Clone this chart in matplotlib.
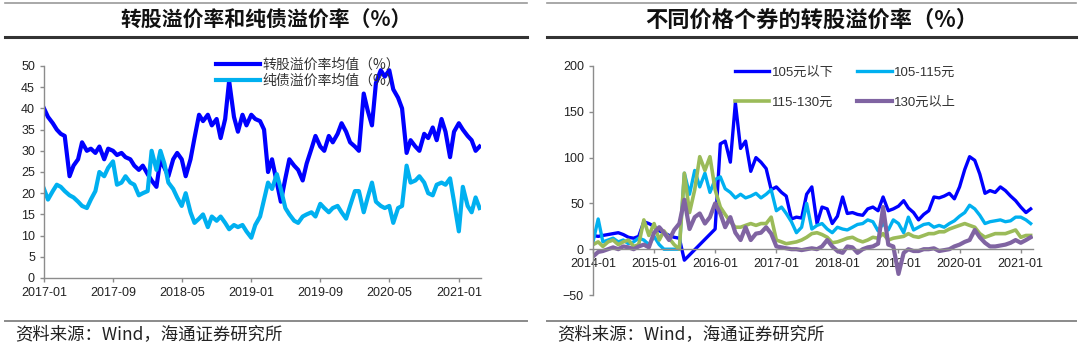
import numpy as np
import pandas as pd
import matplotlib
matplotlib.use("Agg")
import matplotlib.pyplot as plt
import matplotlib.dates as mdates
from matplotlib.lines import Line2D

plt.rcParams['font.family'] = ['Liberation Sans', 'Noto Sans CJK SC', 'DejaVu Sans']
CJK = ['Noto Sans CJK SC', 'DejaVu Sans']

# 左图：转股溢价率与纯债溢价率均值，半月度，2017-01 ~ 2021-03
dates_left = pd.date_range('2017-01-01', periods=102, freq='SMS')
conv_premium = [
    40, 38, 36.5, 35, 34, 33.5, 24, 26.5, 28, 32, 30, 30.5,
    29.5, 31, 28, 30.5, 30, 29, 29.5, 28.5, 28, 26.5, 25.5, 26.5,
    24.5, 23, 21.5, 28, 26, 24, 28, 29.5, 28, 24, 28, 33,
    38.5, 37, 38.5, 36, 37.5, 33, 37.5, 46.5, 38, 34.5, 38.5, 36,
    38.5, 37.5, 37, 35, 25, 28, 22.5, 18, 23.5, 28, 26.5, 25.5,
    23, 27, 30.5, 33.5, 31, 30, 33.5, 32, 34, 36.5, 34.5, 32,
    31, 30, 43.5, 39.5, 36, 46, 49, 47.5, 49, 44.5, 42.5, 40,
    29.5, 32.5, 31, 30, 34, 33, 35.5, 32.5, 37.5, 34.5, 28.5, 34.5,
    36.5, 35, 33.5, 32.5, 30, 31,
]
bond_premium = [
    21, 18.5, 20.5, 22, 21.5, 20.5, 19.5, 19, 18, 17, 16.5, 18.5,
    20.5, 25, 24, 26, 27.5, 22, 22.5, 24, 22.5, 22, 19.5, 20,
    20.5, 30, 25.5, 30, 27, 22.5, 21, 19, 17, 20, 15.5, 13,
    14, 15, 12, 14.5, 13.5, 14.5, 13, 11.5, 12.5, 12, 12.5, 11,
    9.5, 12.5, 14.5, 18.5, 22.5, 21, 24.5, 21, 16.5, 15, 13.5, 13,
    14.5, 15, 15.5, 14.5, 17.5, 16.5, 15.5, 16.5, 17, 15.5, 14, 17,
    20.5, 20.5, 15.5, 19, 22.5, 18, 17, 16.5, 17, 13, 16.5, 17,
    26.5, 22.5, 23, 24, 22.5, 20, 19.5, 22, 22.5, 22, 23.5, 18,
    11, 21.5, 17, 15.5, 19, 16.5,
]
left_labels = ['转股溢价率均值（%）', '纯债溢价率均值（%）']

# 右图：不同价格个券的转股溢价率，月度，2014-01 ~ 2021-03（缺失月份为 nan）
dates_right = pd.date_range('2014-01-01', periods=87, freq='MS')
nan = np.nan
below_105 = [
    15, 14, 15, 16, 17, 18, 16, 13, 12, 14, 30, 28,
    25, 20, 18, 15, 13, 12, -12, nan, nan, nan, nan, nan,
    22, 115, 118, 95, 160, 110, 118, 85, 100, 95, 88, 65,
    68, 62, 58, 33, 35, 34, 60, 68, 28, 46, 44, 28,
    36, 57, 39, 40, 38, 37, 44, 46, 42, 57, 42, 44,
    47, 53, 45, 40, 32, 38, 42, 57, 56, 58, 61, 55,
    68, 87, 101, 97, 82, 61, 64, 62, 68, 64, 58, 53,
    46, 40, 44,
]
p105_115 = [
    8, 33, 8, 10, 12, 8, 10, 6, 8, 12, 10, 5,
    14, 5, 0, 0, 0, 0, 83, 60, 86, 68, 83, 62,
    76, 79, 66, 62, 56, 60, 56, 58, 61, 56, 60, 65,
    42, 46, 39, 30, 18, 24, 50, 22, 26, 28, 22, 18,
    24, 22, 21, 24, 27, 28, 32, 30, 20, 28, 21, 32,
    28, 18, 35, 21, 24, 27, 28, 24, 26, 24, 28, 31,
    36, 40, 48, 44, 37, 28, 30, 31, 32, 30, 31, 35,
    35, 32, 28,
]
p115_130 = [
    5, 8, 3, 8, 10, 5, 8, 10, 3, 5, 32, 15,
    28, 10, 20, 12, 5, 0, 83, 40, 65, 101, 86, 101,
    65, 46, 38, 30, 24, 24, 26, 28, 26, 28, 28, 35,
    10, 8, 6, 7, 8, 10, 13, 17, 18, 16, 13, 7,
    8, 10, 12, 13, 10, 8, 10, 13, 12, 17, 10, 12,
    13, 14, 17, 14, 13, 15, 17, 17, 19, 19, 22, 24,
    26, 28, 26, 24, 17, 13, 15, 17, 17, 17, 19, 21,
    13, 15, 15,
]
above_130 = [
    -8, -3, -2, 0, 2, 0, 3, 2, 0, 3, 5, 2,
    18, 24, 18, 10, 21, 28, 54, 22, 35, 39, 28, 35,
    50, 39, 24, 35, 18, 10, 24, 10, 17, 18, 24, 17,
    3, 2, 1, 0, 0, -1, 0, 1, 0, 3, 10, 3,
    -2, -4, 3, 2, -4, 0, 2, 3, 6, 46, 5, 3,
    -27, -4, 0, -2, -2, 0, 0, 1, -2, -1, 0, 3,
    5, 8, 10, 21, 13, 7, 3, 3, 4, 5, 7, 10,
    7, 10, 13,
]
right_series = [below_105, p105_115, p115_130, above_130]
right_labels = ['105元以下', '105-115元', '115-130元', '130元以上']
right_colors = ['#0000FF', '#00B0F0', '#9BBB59', '#8064A2']
right_widths = [2.4, 2.4, 2.6, 3.0]

W, H = 1080, 350
fig = plt.figure(figsize=(W / 100, H / 100), dpi=100)


def px_axes(x0, y0, x1, y1):
    # 以像素坐标（左上为原点）创建坐标轴
    return fig.add_axes([x0 / W, 1 - y1 / H, (x1 - x0) / W, (y1 - y0) / H])


def hline(x0, x1, y, color, lw):
    fig.add_artist(Line2D([x0 / W, x1 / W], [1 - y / H, 1 - y / H],
                          color=color, lw=lw, transform=fig.transFigure))


def style_axes(ax):
    for s in ['top', 'right']:
        ax.spines[s].set_visible(False)
    for s in ['left', 'bottom']:
        ax.spines[s].set_color('#8c8c8c')
        ax.spines[s].set_linewidth(1)
    ax.tick_params(axis='both', colors='#8c8c8c', labelcolor='#222222',
                   labelsize=9, length=3, width=1, direction='out')


# 页眉、页脚
for x0, x1, title, tsize in [(5, 527, '转股溢价率和纯债溢价率（%）', 15),
                             (547, 1076, '不同价格个券的转股溢价率（%）', 16)]:
    hline(x0, x1, 3, '#9a9a9a', 1.2)
    hline(x0, x1, 37, '#333333', 2.2)
    hline(x0, x1, 321, '#8a8a8a', 1.4)
    fig.text((x0 + x1) / 2 / W, 1 - 20 / H, title, ha='center', va='center',
             fontsize=tsize, fontweight='bold', color='#111111', family=CJK)
    fig.text((x0 + 10) / W, 1 - 334 / H, '资料来源：Wind，海通证券研究所',
             ha='left', va='center', fontsize=12.5, color='#222222', family=CJK)

# 左图
ax1 = px_axes(44, 66, 481, 278)
ax1.plot(dates_left, conv_premium, color='#0000FF', lw=3.0, label=left_labels[0])
ax1.plot(dates_left, bond_premium, color='#00B0F0', lw=3.0, label=left_labels[1])
ax1.set_ylim(0, 50)
ax1.set_yticks(np.arange(0, 51, 5))
ax1.set_xlim(pd.Timestamp('2017-01-01'), pd.Timestamp('2021-03-20'))
ax1.set_xticks(pd.date_range('2017-01-01', periods=7, freq='8MS'))
ax1.xaxis.set_major_formatter(mdates.DateFormatter('%Y-%m'))
style_axes(ax1)
ax1.legend(loc='upper left', bbox_to_anchor=(0.38, 1.065), frameon=False,
           prop={'family': CJK, 'size': 10}, handlelength=3.2,
           handletextpad=0.2, labelspacing=0.15, borderaxespad=0,
           labelcolor='#333333')

# 右图
ax2 = px_axes(593, 66, 1033, 295)
handles = []
for vals, lab, col, lw in zip(right_series, right_labels, right_colors, right_widths):
    s = pd.Series(vals, index=dates_right).dropna()
    handles += ax2.plot(s.index, s.values, color=col, lw=lw, label=lab)
ax2.set_ylim(-50, 200)
ax2.set_yticks(np.arange(-50, 201, 50))
ax2.set_xlim(pd.Timestamp('2014-01-01'), pd.Timestamp('2021-03-15'))
ax2.set_xticks(pd.date_range('2014-01-01', periods=8, freq='12MS'))
ax2.xaxis.set_major_formatter(mdates.DateFormatter('%Y-%m'))
ax2.spines['bottom'].set_position(('data', 0))
style_axes(ax2)
# 图例按行排列：两列，先填第一行
order = [0, 2, 1, 3]
ax2.legend([handles[i] for i in order], [right_labels[i] for i in order],
           loc='upper left', bbox_to_anchor=(0.31, 1.02), ncol=2,
           frameon=False, fontsize=9.5, handlelength=2.6, handletextpad=0.2,
           labelspacing=1.35, columnspacing=1.8, borderaxespad=0,
           labelcolor='#333333')

fig.savefig('out.png', dpi=100)
